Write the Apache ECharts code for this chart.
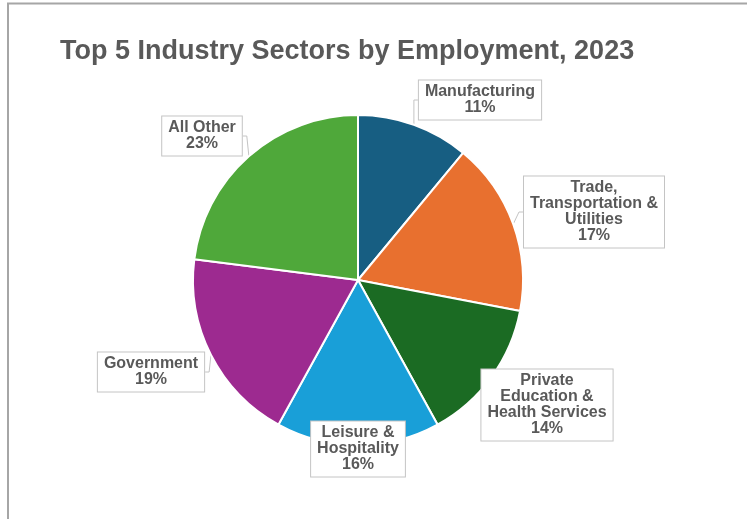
<!DOCTYPE html>
<html>
<head>
<meta charset="utf-8">
<script src="https://cdn.jsdelivr.net/npm/echarts@6/dist/echarts.min.js"></script>
<style>
  html, body { margin: 0; padding: 0; background: #fff; }
  #chart { width: 747px; height: 519px; }
</style>
</head>
<body>
<div id="chart"></div>
<script>
// Employment share by industry sector, 2023 (percent)
const sectors = [
  'Manufacturing',
  'Trade,\nTransportation &\nUtilities',
  'Private\nEducation &\nHealth Services',
  'Leisure &\nHospitality',
  'Government',
  'All Other'
];
const shares = [11, 17, 14, 16, 19, 23];
const sliceColors = ['#175e82', '#e8702f', '#1b6b23', '#199fd8', '#9d2a90', '#4fa83a'];

// Callout box centres for each sector label
const calloutCentres = [
  [480, 100],
  [594, 212],
  [547, 405],
  [358, 449],
  [151, 372],
  [202, 136]
];
const showPointer = [true, true, false, false, true, true];

const chart = echarts.init(document.getElementById('chart'), null, { renderer: 'canvas' });

chart.setOption({
  backgroundColor: '#ffffff',
  animation: false,
  title: {
    text: 'Top 5 Industry Sectors by Employment, 2023',
    left: 55,
    top: 33,
    textStyle: {
      fontFamily: 'Liberation Sans, Arial, sans-serif',
      fontWeight: 'bold',
      fontSize: 27,
      color: '#595959'
    }
  },
  graphic: [{
    type: 'polyline',
    shape: { points: [[8, 530], [8, 3.5], [760, 3.5]] },
    style: { stroke: '#a6a6a6', lineWidth: 2, fill: null },
    silent: true
  }],
  series: [{
    type: 'pie',
    center: [358, 280],
    radius: 165,
    startAngle: 90,
    clockwise: true,
    color: sliceColors,
    itemStyle: { borderColor: '#ffffff', borderWidth: 2 },
    label: {
      show: true,
      position: 'outside',
      formatter: p => p.name + '\n' + p.value + '%',
      fontFamily: 'Liberation Sans, Arial, sans-serif',
      fontWeight: 'bold',
      fontSize: 16,
      lineHeight: 16,
      color: '#595959',
      align: 'center',
      backgroundColor: '#ffffff',
      borderColor: '#c4c4c4',
      borderWidth: 1,
      padding: [4, 6, 3, 6]
    },
    labelLine: {
      show: true,
      length: 6,
      length2: 4,
      lineStyle: { color: '#c4c4c4', width: 1 }
    },
    labelLayout: params => {
      const c = calloutCentres[params.dataIndex];
      return { x: c[0], y: c[1], align: 'center', verticalAlign: 'middle' };
    },
    data: sectors.map((name, i) => ({
      name: name,
      value: shares[i],
      labelLine: { show: showPointer[i] }
    }))
  }]
});
</script>
</body>
</html>
